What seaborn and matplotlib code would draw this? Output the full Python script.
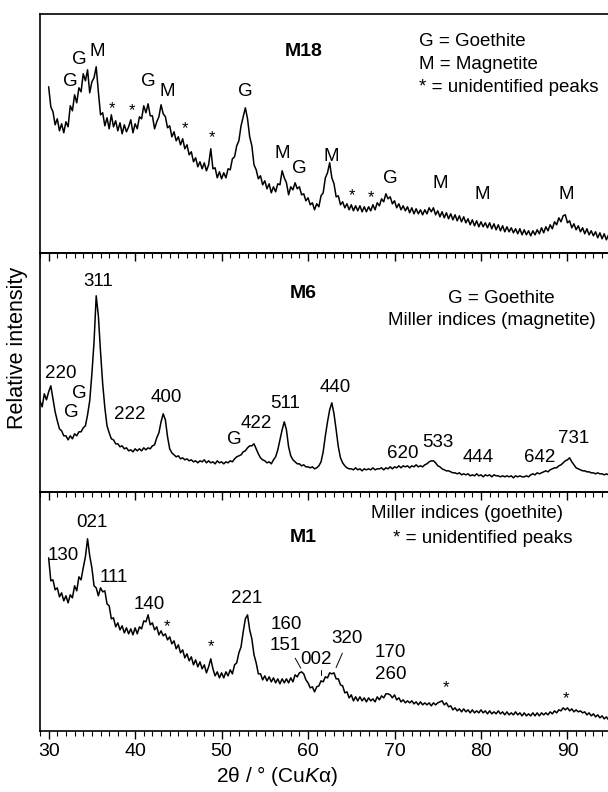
import numpy as np
import pandas as pd
import matplotlib
matplotlib.use("Agg")
import matplotlib.pyplot as plt
import seaborn as sns
from matplotlib.ticker import MultipleLocator

# ---------------- data (arbitrary intensity units) ----------------
STEP = 0.25
start_M18 = 30.0
int_M18 = [
    166,146,141,128,134,122,129,120,
    131,126,147,142,158,150,165,161,
    179,172,183,160,171,175,186,161,
    138,140,127,135,124,138,126,132,
    122,130,119,128,121,126,133,120,
    129,124,136,134,147,140,149,137,
    137,124,131,136,148,139,136,125,
    127,116,121,112,116,108,114,104,
    108,98,101,91,95,86,91,84,
    90,82,88,104,84,85,75,81,
    74,80,75,84,83,94,96,107,
    112,127,136,145,134,116,107,88,
    83,74,77,68,72,64,69,60,
    66,61,69,68,82,75,70,58,
    66,63,70,64,66,58,59,52,
    55,48,50,43,49,46,57,60,
    75,80,90,75,69,56,57,48,
    51,45,49,43,48,42,47,42,
    47,41,46,41,46,42,48,43,
    50,47,54,51,59,54,56,49,
    52,45,49,43,47,42,46,40,
    45,39,44,39,43,38,43,39,
    45,41,45,38,42,36,41,35,
    40,34,39,33,38,32,37,31,
    36,30,34,28,33,27,32,26,
    31,26,30,25,30,24,29,23,
    28,22,27,21,26,21,25,20,
    24,19,24,18,23,18,22,17,
    22,18,23,19,25,20,26,22,
    28,24,31,28,35,31,37,38,
    30,32,25,29,23,27,21,25,
    19,24,18,22,17,21,15,20,
    14,19,13,18,
]

start_M6 = 29.0
int_M6 = [
    91,85,98,92,100,106,93,80,
    71,63,61,56,56,52,56,53,
    58,56,60,60,64,66,77,91,
    118,150,196,176,140,108,84,66,
    59,53,52,48,48,45,46,43,
    44,41,42,40,43,41,43,41,
    44,42,44,43,46,47,54,59,
    70,78,72,55,43,39,37,35,
    36,33,34,32,33,31,32,30,
    31,29,31,30,32,29,31,29,
    30,28,31,29,30,28,30,29,
    31,30,33,35,36,37,40,41,
    44,46,46,48,43,38,34,32,
    31,29,30,28,32,35,42,52,
    62,70,62,45,36,32,30,28,
    28,26,27,25,25,24,25,23,
    24,26,30,40,56,70,82,89,
    78,62,45,34,29,26,24,23,
    23,22,24,22,23,21,23,22,
    23,22,24,22,23,23,24,22,
    24,23,25,23,25,24,26,24,
    26,25,26,24,26,25,27,25,
    26,25,27,28,30,31,31,29,
    26,25,23,22,21,21,20,19,
    19,18,19,17,18,17,18,16,
    17,16,18,16,17,15,17,16,
    17,15,17,16,16,15,16,15,
    16,15,16,14,16,15,16,15,
    15,16,15,17,18,17,19,18,
    19,20,21,20,22,23,24,24,
    26,27,29,31,32,34,30,27,
    24,23,22,21,21,20,20,19,
    19,18,19,18,18,17,18,17,
    17,
]

start_M1 = 30.0
int_M1 = [
    173,150,151,141,143,134,138,130,
    135,128,136,133,145,140,154,151,
    163,174,192,175,163,145,143,135,
    143,139,140,127,125,112,113,104,
    108,101,105,98,103,97,102,96,
    103,97,104,102,110,109,116,106,
    108,101,104,96,100,95,97,91,
    94,87,90,82,86,78,81,73,
    77,70,74,66,71,64,69,62,
    66,58,64,72,62,55,59,53,
    58,53,59,55,61,57,66,68,
    78,84,99,112,116,101,92,76,
    68,57,57,51,55,50,54,49,
    53,48,52,47,52,48,52,48,
    53,49,56,54,58,59,57,51,
    48,43,44,39,44,45,50,49,
    54,53,58,57,58,52,52,46,
    45,38,39,33,36,30,34,30,
    34,30,33,29,33,30,32,29,
    34,31,35,33,37,37,36,33,
    36,31,33,29,31,28,30,28,
    30,27,29,26,29,26,28,26,
    28,25,28,26,28,29,30,26,
    28,24,25,21,23,20,22,19,
    22,19,21,18,21,18,20,18,
    21,18,20,17,20,17,19,17,
    20,17,19,16,19,16,18,16,
    19,16,18,15,18,15,17,15,
    18,15,18,15,18,16,18,16,
    19,17,20,18,21,20,23,21,
    23,20,22,19,21,19,20,18,
    19,16,18,15,17,14,16,13,
    15,12,14,11,
]

# peak labels: (text, 2theta, intensity position)
labels_M18 = [("G", 32.5, 171), ("G", 33.6, 193), ("M", 35.6, 201), ("G", 41.5, 171),
              ("M", 43.7, 161), ("G", 52.7, 161), ("M", 57.0, 99), ("G", 59.0, 84),
              ("M", 62.7, 96), ("G", 69.5, 74), ("M", 75.3, 69), ("M", 80.1, 58),
              ("M", 89.9, 58)]
stars_M18 = [(37.3, 148), (39.6, 146), (45.8, 128), (48.9, 119), (65.05, 61), (67.3, 59)]

labels_M6 = [("220", 31.4, 118), ("G", 32.57, 79), ("G", 33.56, 98), ("311", 35.76, 210),
             ("222", 39.42, 77), ("400", 43.58, 94), ("G", 51.45, 52), ("422", 54.07, 68),
             ("511", 57.34, 88), ("440", 63.12, 104), ("620", 71.0, 38), ("533", 75.06, 49),
             ("444", 79.7, 34), ("642", 86.8, 34), ("731", 90.67, 53)]

labels_M1 = [("130", 31.7, 175), ("021", 35.0, 208), ("111", 37.5, 153), ("140", 41.65, 126),
             ("221", 52.9, 132), ("160", 57.46, 106), ("151", 57.34, 85), ("002", 60.96, 71),
             ("320", 64.47, 92), ("170", 69.56, 78), ("260", 69.56, 56)]
stars_M1 = [(43.7, 108), (48.8, 88), (76.0, 47), (89.8, 36)]
leaders_M1 = [((58.51, 72.7), (59.16, 62.7)), ((61.47, 61), (61.47, 56)),
              ((63.97, 77.7), (63.24, 63.3))]

tick_values = [30, 40, 50, 60, 70, 80, 90]

# ---------------- styling ----------------
sns.set_theme(style="ticks")
plt.rcParams["font.family"] = ["Liberation Sans", "DejaVu Sans"]
plt.rcParams["mathtext.fontset"] = "custom"
plt.rcParams["mathtext.rm"] = "Liberation Sans"
plt.rcParams["mathtext.it"] = "Liberation Sans:italic"
plt.rcParams["text.color"] = "black"
plt.rcParams["axes.labelcolor"] = "black"
plt.rcParams["xtick.color"] = "black"
plt.rcParams["xtick.labelcolor"] = "black"
plt.rcParams["axes.edgecolor"] = "black"

FS = 13.5
fig = plt.figure(figsize=(6.08, 7.92), dpi=100)
L, W, H = 40 / 608, 570.7 / 608, 0.3018
bottoms = [0.6808, 0.3790, 0.0772]
axes = [fig.add_axes([L, b, W, H]) for b in bottoms]


def series_frame(start, vals):
    x = start + STEP * np.arange(len(vals))
    return pd.DataFrame({"two_theta": x, "intensity": vals})


frames = [series_frame(start_M18, int_M18), series_frame(start_M6, int_M6),
          series_frame(start_M1, int_M1)]

for i, (ax, df) in enumerate(zip(axes, frames)):
    ax.set_facecolor("none")
    sns.lineplot(data=df, x="two_theta", y="intensity", ax=ax, color="black",
                 lw=1.1, estimator=None, sort=False)
    ax.set_xlim(29.0, 95.0)
    ax.set_ylim(0, 239)
    ax.set_xlabel("")
    ax.set_ylabel("")
    ax.set_yticks([])
    ax.xaxis.set_major_locator(MultipleLocator(10))
    ax.xaxis.set_minor_locator(MultipleLocator(1))
    ax.set_xticks(tick_values)
    ax.tick_params(axis="x", which="major", direction="out", length=6, width=1,
                   color="black", labelcolor="black", labelsize=14, pad=3, top=False)
    ax.tick_params(axis="x", which="minor", direction="out", length=3.5, width=0.8,
                   color="black", top=False)
    for s in ["left", "bottom", "top"]:
        ax.spines[s].set_color("black")
        ax.spines[s].set_linewidth(1.2)
    ax.spines["right"].set_visible(False)
    if i < 2:
        ax.tick_params(axis="x", labelbottom=False)

ax1, ax2, ax3 = axes

for t, x, y in labels_M18:
    ax1.text(x, y, t, ha="center", va="center", fontsize=FS, color="black")
for x, y in stars_M18:
    ax1.text(x, y - 4, "*", ha="center", va="center", fontsize=12, color="black")
ax1.text(59.46, 201, "M18", ha="center", va="center", fontsize=14, fontweight="bold", color="black")
for j, t in enumerate(["G = Goethite", "M = Magnetite", "* = unidentified peaks"]):
    ax1.text(72.87, 211 - 22.7 * j, t, ha="left", va="center", fontsize=FS, color="black")

for t, x, y in labels_M6:
    ax2.text(x, y, t, ha="center", va="center", fontsize=FS, color="black")
ax2.text(59.46, 198, "M6", ha="center", va="center", fontsize=14, fontweight="bold", color="black")
ax2.text(82.35, 193, "G = Goethite", ha="center", va="center", fontsize=FS, color="black")
ax2.text(81.27, 171, "Miller indices (magnetite)", ha="center", va="center", fontsize=FS, color="black")

for t, x, y in labels_M1:
    ax3.text(x, y, t, ha="center", va="center", fontsize=FS, color="black")
for x, y in stars_M1:
    ax3.text(x, y - 4, "*", ha="center", va="center", fontsize=12, color="black")
for (x0, y0), (x1, y1) in leaders_M1:
    ax3.plot([x0, x1], [y0, y1], color="black", lw=0.7)
ax3.text(59.46, 193, "M1", ha="center", va="center", fontsize=14, fontweight="bold", color="black")
ax3.text(78.35, 217, "Miller indices (goethite)", ha="center", va="center", fontsize=FS, color="black")
ax3.text(80.17, 192, "* = unidentified peaks", ha="center", va="center", fontsize=FS, color="black")

fig.text(18 / 608, 1 - 348 / 792, "Relative intensity", rotation=90,
         ha="center", va="center", fontsize=15.5, color="black")
fig.text(277 / 608, 1 - 776 / 792, r"2θ / ° (Cu$\mathit{K}$α)",
         ha="center", va="center", fontsize=15, color="black")

fig.savefig("out.png", dpi=100)
